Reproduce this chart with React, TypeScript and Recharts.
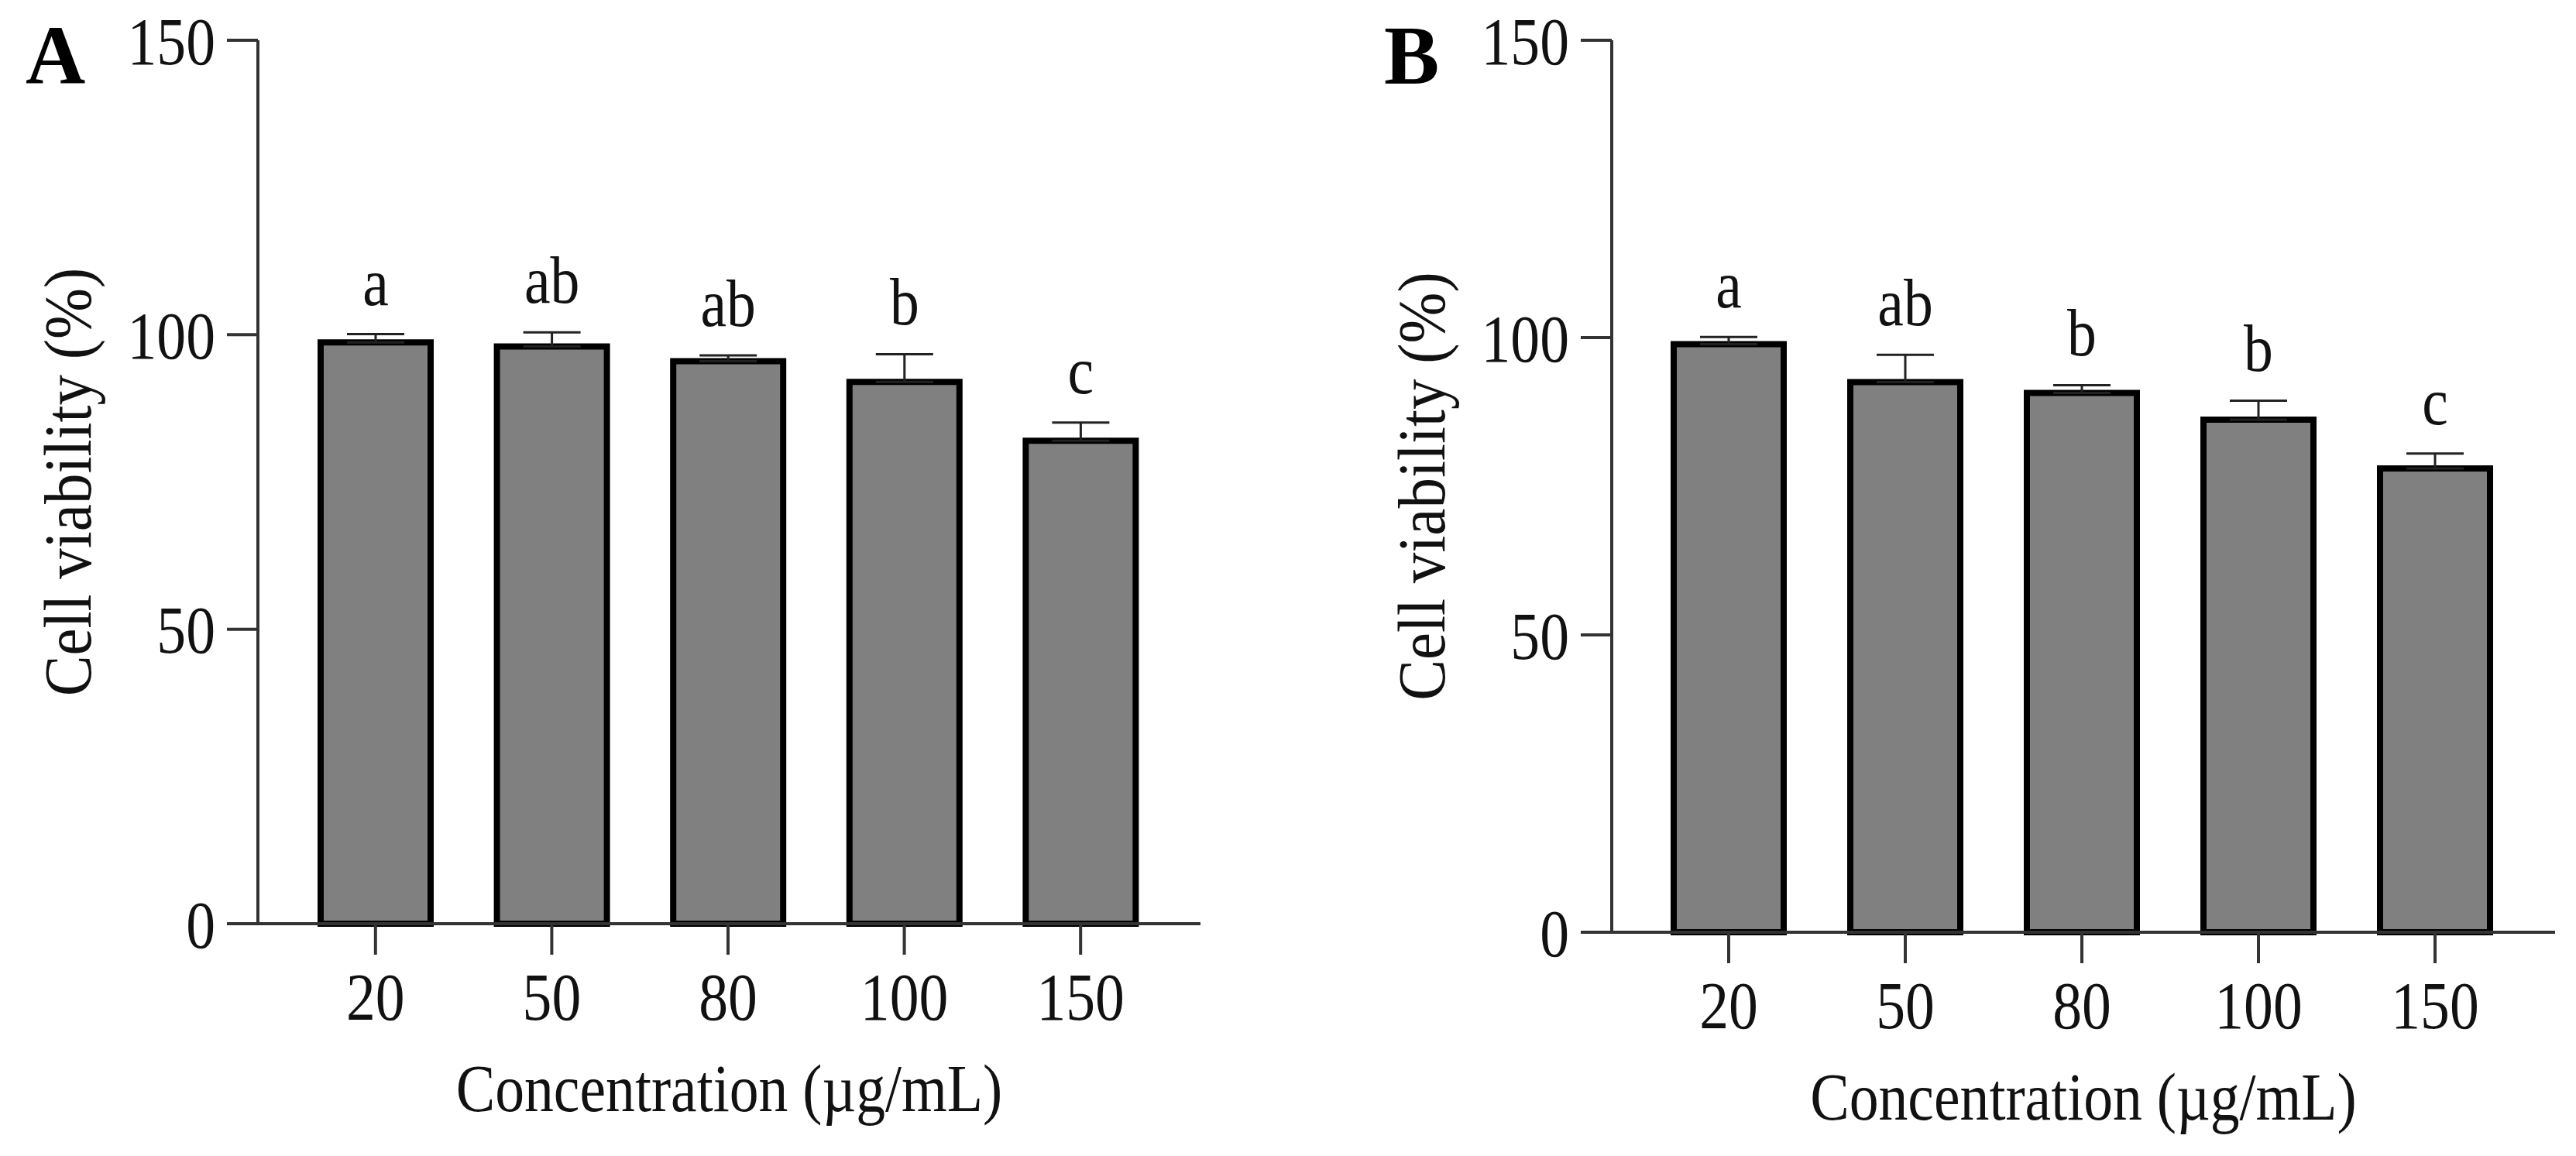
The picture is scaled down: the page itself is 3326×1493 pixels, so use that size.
import React from 'react';
import { BarChart, Bar, XAxis, YAxis, ErrorBar, LabelList } from 'recharts';

const concentrations = ['20', '50', '80', '100', '150'];
const viabilityA = [98.7, 98.0, 95.5, 92.0, 82.0];
const sdA = [1.4, 2.4, 1.0, 4.7, 3.1];
const lettersA = ['a', 'ab', 'ab', 'b', 'c'];
const viabilityB = [98.9, 92.5, 90.7, 86.2, 78.0];
const sdB = [1.2, 4.6, 1.3, 3.2, 2.5];
const lettersB = ['a', 'ab', 'b', 'b', 'c'];
const yTicks = [0, 50, 100, 150];

const FONT = '"Liberation Serif", "Times New Roman", serif';
const TXT = '#111';
const AXIS = '#333';
const FS = 86;
const SX = 0.88;

function SText({ x, y, anchor = 'middle', rotate = 0, children, size = FS, sx = SX }: any) {
  return (
    <g transform={`translate(${x},${y}) rotate(${rotate}) scale(${sx},1)`}>
      <text x={0} y={0} textAnchor={anchor} fontFamily={FONT} fontSize={size} fill={TXT}>
        {children}
      </text>
    </g>
  );
}

const XTick = (p: any) => (
  <SText x={p.x} y={p.y + 0.71 * FS} anchor="middle">
    {p.payload.value}
  </SText>
);

const YTick = (p: any) => (
  <SText x={p.x} y={p.y + 0.355 * FS} anchor="end">
    {p.payload.value}
  </SText>
);

type PanelProps = {
  letter: string;
  means: number[];
  sds: number[];
  letters: string[];
  left: number;
  margin: { top: number; right: number; bottom: number; left: number };
  padding: { left: number; right: number };
  letterX: number;
};

function Panel({ letter, means, sds, letters, left, margin, padding, letterX }: PanelProps) {
  const data = concentrations.map((c, i) => ({
    conc: c,
    mean: means[i],
    err: [0, sds[i]],
    letter: letters[i],
  }));

  const renderLetter = (p: any) => {
    const { x, y, width, height, value, index } = p;
    const pxPerUnit = Number(height) / means[index];
    const capY = Number(y) - sds[index] * pxPerUnit;
    return (
      <SText x={Number(x) + Number(width) / 2} y={capY - 38} anchor="middle">
        {value}
      </SText>
    );
  };

  const xTitle = (p: any) => {
    const vb = p.viewBox;
    return (
      <SText x={vb.x + vb.width / 2} y={vb.y + 242} anchor="middle">
        Concentration (µg/mL)
      </SText>
    );
  };

  const yTitle = (p: any) => {
    const vb = p.viewBox;
    const bx = vb.x + vb.width - 216;
    const cy = vb.y + vb.height / 2;
    return (
      <SText x={bx} y={cy} rotate={-90} anchor="middle" sx={0.92}>
        Cell viability (%)
      </SText>
    );
  };

  return (
    <div style={{ position: 'absolute', left, top: 0, width: 1663, height: 1493 }}>
      <BarChart width={1663} height={1493} data={data} margin={margin} barCategoryGap={0}>
        <XAxis
          dataKey="conc"
          height={100}
          padding={padding}
          tickSize={40}
          tickMargin={23}
          axisLine={{ stroke: AXIS, strokeWidth: 4 }}
          tickLine={{ stroke: AXIS, strokeWidth: 4 }}
          tick={<XTick />}
          label={{ content: xTitle }}
        />
        <YAxis
          width={100}
          domain={[0, 150]}
          ticks={yTicks}
          interval={0}
          tickSize={40}
          tickMargin={15}
          axisLine={{ stroke: AXIS, strokeWidth: 4 }}
          tickLine={{ stroke: AXIS, strokeWidth: 4 }}
          tick={<YTick />}
          label={{ content: yTitle }}
        />
        <Bar
          dataKey="mean"
          fill="#808080"
          stroke="#000"
          strokeWidth={8}
          barSize={142}
          isAnimationActive={false}
        >
          <ErrorBar dataKey="err" direction="y" width={37} stroke="#222" strokeWidth={3} />
          <LabelList dataKey="letter" content={renderLetter} />
        </Bar>
      </BarChart>
      <svg
        width={300}
        height={150}
        style={{ position: 'absolute', left: 0, top: 0, pointerEvents: 'none' }}
      >
        <text x={letterX} y={108} fontFamily={FONT} fontSize={107} fontWeight="bold" fill="#000">
          {letter}
        </text>
      </svg>
    </div>
  );
}

export default function App() {
  return (
    <div style={{ position: 'absolute', left: 0, top: 0, width: 3326, height: 1493, background: '#fff' }}>
      <Panel
        letter="A"
        means={viabilityA}
        sds={sdA}
        letters={lettersA}
        left={0}
        margin={{ top: 52, right: 113, bottom: 200, left: 233 }}
        padding={{ left: 38, right: 41 }}
        letterX={33}
      />
      <Panel
        letter="B"
        means={viabilityB}
        sds={sdB}
        letters={lettersB}
        left={1663}
        margin={{ top: 52, right: 27, bottom: 189, left: 318 }}
        padding={{ left: 37, right: 41 }}
        letterX={124}
      />
    </div>
  );
}
